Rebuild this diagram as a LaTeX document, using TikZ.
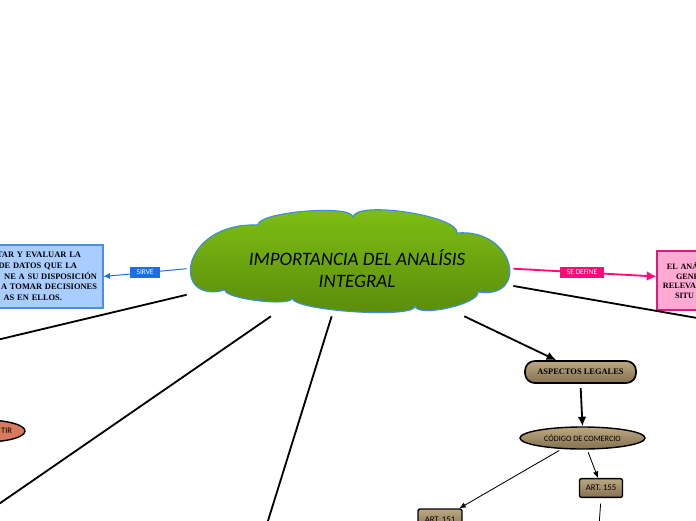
\documentclass[tikz,border=0pt]{standalone}
\usepackage{fontspec}
\setmainfont{Liberation Serif}
\setsansfont{Carlito}
\usetikzlibrary{arrows.meta, shapes.geometric}
\definecolor{Leaf}{HTML}{80C214}
\definecolor{LeafDark}{HTML}{598A0A}
\definecolor{CloudLine}{HTML}{3D8FD8}
\definecolor{SkyBox}{HTML}{A9CDFF}
\definecolor{SkyLine}{HTML}{4A8EE8}
\definecolor{Tag}{HTML}{1F6FD8}
\definecolor{Rose}{HTML}{FF0A78}
\definecolor{RoseBox}{HTML}{FFA9D3}
\definecolor{RoseLine}{HTML}{E0197D}
\definecolor{TanLight}{HTML}{BCA882}
\definecolor{TanDark}{HTML}{857050}
\definecolor{Salmon}{HTML}{D97A5C}

\begin{document}
\begin{tikzpicture}[
        x=0.025cm, y=-0.025cm,
        font=\sffamily,
        cloudline/.style={draw=CloudLine, line width=0.8pt, top color=Leaf, bottom color=LeafDark},
        hub/.style={minimum width=8.15cm, minimum height=2.65cm, inner sep=0pt},
        ideatext/.style={align=center, font=\sffamily\itshape\fontsize{13.5}{15.6}\selectfont},
        infobox/.style={draw=SkyLine, fill=SkyBox, line width=0.8pt, minimum width=4.075cm, minimum height=1.575cm, inner xsep=0.15cm, text width=3.775cm, align=right, font=\rmfamily\bfseries\fontsize{6}{7.6}\selectfont},
        rosebox/.style={draw=RoseLine, fill=RoseBox, line width=0.8pt, minimum width=2.575cm, minimum height=1.475cm, inner xsep=0.15cm, text width=2.275cm, align=left, font=\rmfamily\bfseries\fontsize{5.8}{6.8}\selectfont},
        legalbox/.style={draw, line width=1.2pt, rounded corners=7pt, top color=TanLight, bottom color=TanDark, minimum width=2.775cm, minimum height=0.55cm, inner sep=0pt, font=\rmfamily\bfseries\fontsize{6}{7}\selectfont},
        codebox/.style={ellipse, draw, line width=1pt, top color=TanLight, bottom color=TanDark, minimum width=3.125cm, minimum height=0.55cm, inner sep=0pt, font=\sffamily\fontsize{5.8}{7}\selectfont},
        artbox/.style={draw, line width=1pt, rounded corners=1.5pt, top color=TanLight, bottom color=TanDark, minimum width=1.075cm, minimum height=0.47cm, inner sep=0pt, font=\sffamily\fontsize{6.2}{7}\selectfont},
        tirbox/.style={ellipse, draw, line width=1pt, fill=Salmon, minimum width=2cm, minimum height=0.55cm, inner sep=0pt, text width=1.35cm, align=right, font=\sffamily\fontsize{6}{7}\selectfont},
        tag/.style={inner sep=0pt, minimum height=0.27cm, text=white, font=\sffamily\fontsize{5.2}{6}\selectfont},
        branch/.style={line width=1.3pt},
        thickarr/.style={-{Latex[length=2.4mm, width=2.2mm]}, line width=1.3pt},
        thinarr/.style={-{Latex[length=1.6mm, width=1.4mm]}, line width=0.6pt, shorten <=2pt},
        bluearr/.style={-{Latex[length=1.6mm, width=1.6mm]}, line width=0.7pt, color=Tag},
        rosearr/.style={-{Latex[length=2.4mm, width=2.4mm]}, line width=1.3pt, color=Rose}
      ]
        \useasboundingbox (0,0) rectangle (696,520);
        \clip (0,0) rectangle (696,520);
        \fill[white] (0,0) rectangle (696,520);

        \path[cloudline] (258,225) .. controls (257,212) and (352,204) .. (353,217)
          .. controls (356,200) and (460,216) .. (457,233)
          .. controls (515,228) and (530,300) .. (478,292)
          .. controls (480,304) and (417,318) .. (415,306)
          .. controls (416,319) and (293,311) .. (292,298)
          .. controls (293,307) and (224,299) .. (225,290)
          .. controls (170,305) and (180,222) .. cycle;
        \node[hub] (core) at (350,263) {};
        \node[ideatext] (title) at (357,269) {IMPORTANCIA DEL ANALÍSIS\\INTEGRAL};

        \node[infobox] (serve) at (21.5,276.5) {TAR Y EVALUAR LA\kern0.4cm\\DE DATOS QUE LA\kern0.5cm\\NE A SU DISPOSICIÓN\\A TOMAR DECISIONES\\AS EN ELLOS.\kern0.875cm};
        \node[rosebox] (define) at (708.5,280.5) {\hspace*{0.1cm}EL ANÁ\\\hspace*{0.325cm}GENE\\RELEVA\\\hspace*{0.3cm}SITU};

        \node[legalbox] (legal) at (580.5,372) {ASPECTOS LEGALES};
        \node[codebox] (code) at (582.5,438) {CÓDIGO DE COMERCIO};
        \node[artbox] (art155) at (601,488) {ART. 155};
        \node[artbox, minimum width=1.1cm, minimum height=0.525cm] (art151) at (440,519.5) {ART. 151};
        \node[tirbox] (tir) at (-15,431) {TIR};

        \coordinate (offleft) at (-20,344);
        \coordinate (offlow) at (-20,517);
        \coordinate (offdown) at (262,540);
        \coordinate (offright) at (720,322);
        \coordinate (offart) at (598,540);

        \draw[bluearr] (core.182) -- node[tag, fill=Tag, minimum width=0.75cm] {SIRVE} (serve.east);
        \draw[rosearr] (core.-2) -- node[tag, fill=Rose, minimum width=1.1cm, pos=0.48] {SE DEFINE} ([yshift=0.1cm]define.west);

        \draw[branch] (core.-8.4) -- (offright);
        \draw[branch] (core.191.4) -- (offleft);
        \draw[branch] (core.214) -- (offlow);
        \draw[branch] (core.251.2) -- (offdown);

        \draw[thickarr] (core.-25.3) -- (legal.154);
        \draw[thickarr, shorten <=3pt] (legal.south) -- (code.north);
        \draw[thinarr] (code.208) -- (art151.30);
        \draw[thinarr] (code.-68) -- (art155.107);
        \draw[line width=0.6pt, shorten <=4pt] (art155.south) -- (offart);
      \end{tikzpicture}
\end{document}
